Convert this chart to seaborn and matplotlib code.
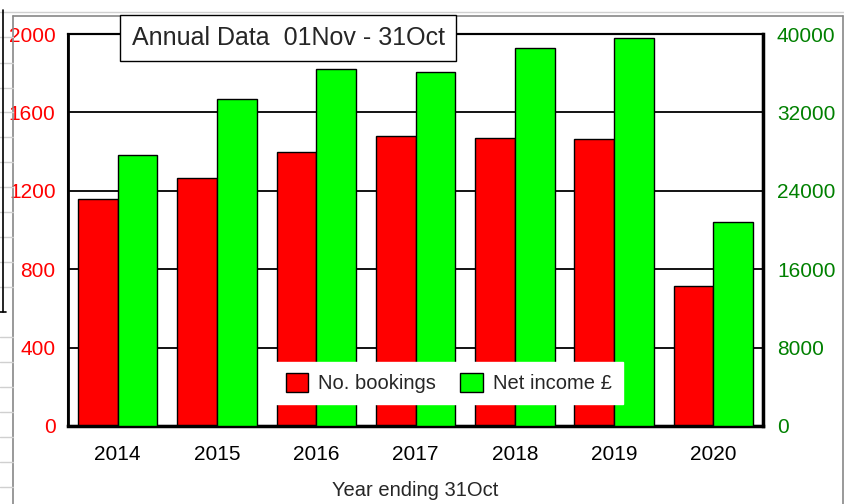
import pandas as pd
import matplotlib.pyplot as plt
import seaborn as sns
from matplotlib.patches import Patch
from matplotlib.lines import Line2D

years = ['2014', '2015', '2016', '2017', '2018', '2019', '2020']
bookings = [1158, 1265, 1398, 1480, 1469, 1464, 714]
net_income = [27650, 33370, 36430, 36120, 38570, 39590, 20820]
series = ['No. bookings', 'Net income £']
colors = {'No. bookings': '#ff0000', 'Net income £': '#00ff00'}

df_book = pd.DataFrame({'year': years, 'value': bookings, 'series': series[0]})
df_inc = pd.DataFrame({'year': years, 'value': net_income, 'series': series[1]})

sns.set_style('white')
plt.rcParams['font.family'] = ['Liberation Sans', 'DejaVu Sans']

fig = plt.figure(figsize=(8.45, 5.04), dpi=100)
ax = fig.add_axes([0.0805, 0.1548, 0.8225, 0.7777])
ax2 = ax.twinx()

sns.barplot(data=df_book, x='year', y='value', hue='series', hue_order=series,
            palette=colors, width=0.8, dodge=True, saturation=1,
            edgecolor='black', linewidth=1, legend=False, ax=ax, zorder=3)
sns.barplot(data=df_inc, x='year', y='value', hue='series', hue_order=series,
            palette=colors, width=0.8, dodge=True, saturation=1,
            edgecolor='black', linewidth=1, legend=False, ax=ax2, zorder=3)

ax.set_ylim(0, 2000)
ax.set_yticks(range(0, 2001, 400))
ax2.set_ylim(0, 40000)
ax2.set_yticks(range(0, 40001, 8000))
ax.set_xlim(-0.5, 6.5)

ax.yaxis.grid(True, color='black', linewidth=1.3, zorder=0)
ax.set_axisbelow(True)
ax.tick_params(axis='y', colors='#ff0000', labelsize=15, length=0, pad=9)
ax.tick_params(axis='x', labelsize=15, length=0, pad=14, colors='black')
ax2.tick_params(axis='y', colors='#008000', labelsize=15, length=0, pad=10)
ax.set_ylabel('')
ax2.set_ylabel('')
ax.set_xlabel('Year ending 31Oct', fontsize=14.5, labelpad=12)

for a in (ax, ax2):
    for side in ['top', 'left', 'right', 'bottom']:
        a.spines[side].set_visible(True)
        a.spines[side].set_color('black')
        a.spines[side].set_linewidth(1.5)
ax2.spines['bottom'].set_linewidth(2.5)
ax2.spines['right'].set_linewidth(2.5)
ax2.spines['left'].set_linewidth(2)

handles = [Patch(facecolor=colors[s], edgecolor='black', label=s) for s in series]
leg = ax2.legend(handles=handles, loc='center', bbox_to_anchor=(0.548, 0.11),
                 ncol=2, frameon=True, fontsize=14.5, handlelength=1.1,
                 handleheight=1.1, columnspacing=1.2, handletextpad=0.5,
                 borderpad=0.55, fancybox=False)
leg.get_frame().set_edgecolor('white')
leg.get_frame().set_facecolor('white')
leg.get_frame().set_alpha(1)

fig.text(0.341, 0.9246, 'Annual Data  01Nov - 31Oct', fontsize=18,
         ha='center', va='center', zorder=10,
         bbox=dict(boxstyle='square,pad=0.45', facecolor='white',
                   edgecolor='black', linewidth=1))

# spreadsheet frame around the chart
W, H = 845, 504
def fline(x0, y0, x1, y1, color='#b0b0b0', lw=1.0):
    fig.add_artist(Line2D([x0 / W, x1 / W], [1 - y0 / H, 1 - y1 / H],
                          color=color, linewidth=lw))

fline(13, 16, 843, 16, '#888888', 1.2)
fline(13, 16, 13, 504, '#888888', 1.2)
fline(843, 16, 843, 504, '#888888', 1.2)
fline(0, 12, 845, 12, '#d0d0d0')
for y in [37, 63, 88, 112, 137, 162, 187, 212, 237, 262, 287, 337, 362, 387, 412, 437, 462, 487]:
    fline(0, y, 13, y, '#d0d0d0')
fline(3, 10, 3, 312, 'black', 1.2)
fline(0, 312, 6, 312, 'black', 1.2)

fig.savefig('out.png', dpi=100)
